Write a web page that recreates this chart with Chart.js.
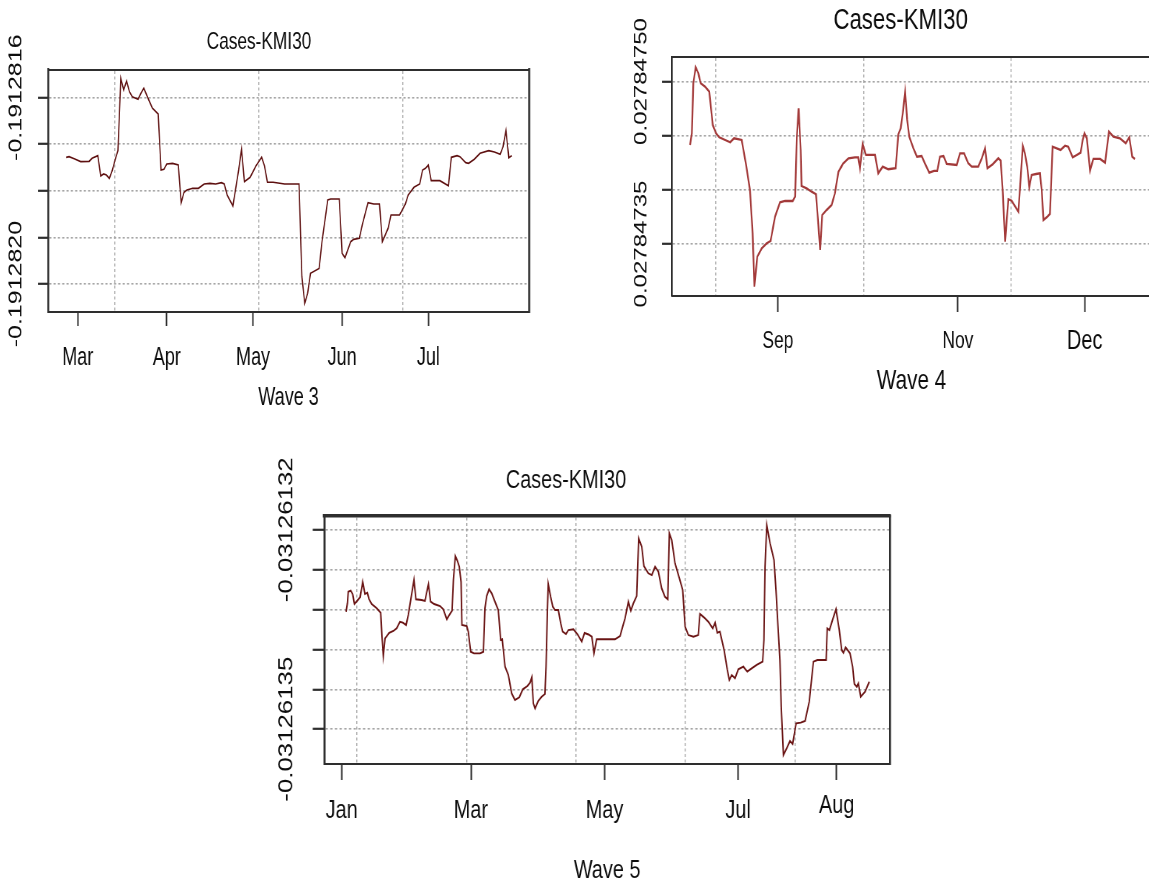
<!DOCTYPE html>
<html>
<head>
<meta charset="utf-8">
<title>Cases-KMI30 by wave</title>
<script src="https://cdn.jsdelivr.net/npm/chart.js@4.4.1/dist/chart.umd.min.js"></script>
<style>
  html, body { margin: 0; padding: 0; background: #ffffff; width: 1149px; height: 888px; overflow: hidden; position: relative; }
  canvas { position: absolute; transform-origin: 0 0; }
</style>
</head>
<body>
<canvas id="wave3"></canvas>
<canvas id="wave4"></canvas>
<canvas id="wave5"></canvas>
<script>
// ---------- Wave 3 (2021, x = day of year) ----------
const wave3Days = [
  56, 57, 59, 61, 64, 65, 67, 68, 69, 70,
  71, 72, 73, 74, 75, 76, 77, 78, 79, 81,
  82, 83, 85, 86, 88, 89, 90, 91, 93, 95,
  96, 97, 98, 100, 102, 104, 106, 108, 110, 111,
  112, 114, 116, 117, 118, 120, 122, 124, 125, 126,
  128, 132, 137, 138, 139, 140, 141, 144, 145, 147,
  148, 151, 152, 153, 155, 156, 158, 159, 161, 163,
  165, 166, 168, 169, 172, 174, 175, 177, 179, 180,
  181, 182, 183, 186, 189, 190, 192, 193, 195, 196,
  198, 200, 203, 205, 207, 208, 209, 210, 211
];
const wave3Values = [
  -0.1912817279, -0.1912817266, -0.1912817315, -0.1912817373, -0.1912817365, -0.1912817300, -0.1912817245, -0.1912817680, -0.1912817637, -0.1912817659,
  -0.1912817730, -0.1912817567, -0.1912817337, -0.1912817137, -0.1912815584, -0.1912815835, -0.1912815642, -0.1912815871, -0.1912815979, -0.1912816034,
  -0.1912815906, -0.1912815798, -0.1912816086, -0.1912816227, -0.1912816350, -0.1912817552, -0.1912817536, -0.1912817423, -0.1912817408, -0.1912817444,
  -0.1912818253, -0.1912818030, -0.1912817981, -0.1912817944, -0.1912817944, -0.1912817852, -0.1912817837, -0.1912817852, -0.1912817824, -0.1912817852,
  -0.1912818088, -0.1912818324, -0.1912817552, -0.1912817107, -0.1912817803, -0.1912817708, -0.1912817466, -0.1912817279, -0.1912817466, -0.1912817815,
  -0.1912817815, -0.1912817852, -0.1912817852, -0.1912819841, -0.1912820412, -0.1912820197, -0.1912819768, -0.1912819665, -0.1912819090, -0.1912818195,
  -0.1912818174, -0.1912818174, -0.1912819339, -0.1912819433, -0.1912819090, -0.1912819039, -0.1912819017, -0.1912818732, -0.1912818253, -0.1912818281,
  -0.1912818281, -0.1912819090, -0.1912818803, -0.1912818517, -0.1912818517, -0.1912818281, -0.1912818088, -0.1912817923, -0.1912817852, -0.1912817552,
  -0.1912817515, -0.1912817444, -0.1912817781, -0.1912817781, -0.1912817888, -0.1912817279, -0.1912817245, -0.1912817266, -0.1912817395, -0.1912817408,
  -0.1912817322, -0.1912817193, -0.1912817137, -0.1912817165, -0.1912817215, -0.1912817052, -0.1912816708, -0.1912817288, -0.1912817245
];
const wave3MonthDays = [60, 91, 121, 152, 182];
const wave3MonthLabels = ['Mar', 'Apr', 'May', 'Jun', 'Jul'];
const wave3GridDays = [73, 123, 173];
const wave3YTicks = [-0.1912816, -0.1912817, -0.1912818, -0.1912819, -0.1912820];
const wave3YLabels = ['-0.1912816', '', '', '', '-0.1912820'];

// ---------- Wave 4 (2021, x = day of year) ----------
const wave4Days = [
  214.2, 214.8, 215.3, 216.1, 217.0, 217.8, 219.3, 220.7, 221.9, 223.0,
  224.1, 226.1, 227.8, 229.1, 231.7, 233.2, 234.5, 235.4, 236.0, 237.0,
  238.5, 240.2, 241.5, 243.0, 244.7, 246.4, 249.0, 249.8, 250.4, 251.0,
  251.7, 252.0, 253.7, 255.4, 256.9, 257.7, 258.3, 259.0, 260.5, 262.2,
  263.3, 264.5, 266.0, 267.9, 270.1, 271.2, 271.8, 272.7, 273.8, 276.9,
  278.0, 279.5, 281.4, 283.9, 284.8, 285.6, 286.3, 287.1, 287.8, 288.5,
  289.9, 291.1, 292.7, 293.8, 295.3, 296.9, 298.0, 298.9, 300.1, 301.2,
  304.6, 305.7, 307.1, 308.5, 309.7, 311.9, 313.1, 314.2, 315.0, 316.8,
  318.7, 319.5, 320.2, 321.0, 322.1, 323.2, 325.5, 326.3, 327.0, 327.7,
  328.5, 329.2, 330.0, 331.5, 332.8, 333.4, 334.0, 335.3, 336.2, 337.1,
  338.5, 339.8, 341.3, 342.4, 343.9, 345.3, 346.6, 347.3, 347.9, 348.7,
  349.8, 350.9, 353.2, 354.9, 356.2, 357.7, 359.9, 361.9, 363.1, 364.1,
  365.0
];
const wave4Values = [
  0.0278474414, 0.0278474522, 0.0278474983, 0.0278475131, 0.0278475076, 0.0278474983, 0.0278474952, 0.0278474906, 0.0278474598, 0.0278474522,
  0.0278474485, 0.0278474460, 0.0278474439, 0.0278474476, 0.0278474460, 0.0278474229, 0.0278473999, 0.0278473599, 0.0278473106, 0.0278473383,
  0.0278473460, 0.0278473507, 0.0278473528, 0.0278473752, 0.0278473885, 0.0278473897, 0.0278473897, 0.0278473937, 0.0278474491, 0.0278474753,
  0.0278474368, 0.0278474035, 0.0278474014, 0.0278473983, 0.0278473959, 0.0278473675, 0.0278473445, 0.0278473768, 0.0278473814, 0.0278473860,
  0.0278473968, 0.0278474167, 0.0278474239, 0.0278474291, 0.0278474300, 0.0278474300, 0.0278474199, 0.0278474423, 0.0278474322, 0.0278474322,
  0.0278474153, 0.0278474214, 0.0278474190, 0.0278474199, 0.0278474513, 0.0278474568, 0.0278474706, 0.0278474906, 0.0278474645, 0.0278474491,
  0.0278474383, 0.0278474306, 0.0278474312, 0.0278474245, 0.0278474158, 0.0278474174, 0.0278474174, 0.0278474306, 0.0278474312, 0.0278474239,
  0.0278474229, 0.0278474337, 0.0278474337, 0.0278474245, 0.0278474214, 0.0278474214, 0.0278474291, 0.0278474383, 0.0278474199, 0.0278474236,
  0.0278474291, 0.0278474269, 0.0278473983, 0.0278473521, 0.0278473913, 0.0278473900, 0.0278473798, 0.0278474121, 0.0278474405, 0.0278474337,
  0.0278474214, 0.0278474029, 0.0278474137, 0.0278474146, 0.0278474153, 0.0278473999, 0.0278473722, 0.0278473752, 0.0278473777, 0.0278474398,
  0.0278474383, 0.0278474368, 0.0278474407, 0.0278474398, 0.0278474300, 0.0278474322, 0.0278474343, 0.0278474460, 0.0278474522, 0.0278474476,
  0.0278474177, 0.0278474285, 0.0278474285, 0.0278474251, 0.0278474537, 0.0278474491, 0.0278474476, 0.0278474430, 0.0278474485, 0.0278474306,
  0.0278474285
];
const wave4MonthDays = [244, 305, 348];
const wave4MonthLabels = ['Sep', 'Nov', 'Dec'];
const wave4GridDays = [223, 273, 323];
const wave4YTicks = [0.02784750, 0.02784745, 0.02784740, 0.02784735];
const wave4YLabels = ['0.02784750', '', '', '0.02784735'];

// ---------- Wave 5 (2022, x = day of year) ----------
const wave5Days = [
  3.0, 3.6, 4.0, 5.1, 6.0, 6.8, 8.1, 9.4, 10.6, 11.6,
  12.7, 13.5, 14.7, 17.0, 18.8, 19.4, 20.0, 20.8, 22.7, 24.6,
  26.1, 27.6, 28.9, 30.4, 31.4, 32.5, 34.0, 34.9, 37.5, 39.0,
  40.6, 41.6, 43.2, 45.9, 47.4, 49.0, 50.1, 51.4, 52.0, 52.9,
  53.8, 54.7, 55.5, 55.9, 58.1, 58.8, 59.9, 61.4, 64.2, 65.7,
  66.4, 67.2, 68.3, 69.5, 71.0, 72.5, 73.6, 74.3, 75.6, 77.1,
  78.6, 80.1, 82.1, 83.7, 85.8, 87.0, 87.8, 88.5, 89.3, 90.8,
  92.3, 93.8, 94.3, 94.9, 95.3, 96.4, 97.4, 98.4, 99.9, 101.0,
  101.9, 103.4, 104.5, 106.8, 108.6, 110.6, 111.9, 113.7, 115.2, 116.2,
  117.4, 120.5, 125.8, 128.1, 129.3, 130.4, 131.9, 133.0, 134.2, 135.7,
  136.6, 138.0, 139.0, 141.0, 142.6, 144.1, 145.6, 147.1, 148.6, 149.9,
  150.6, 151.7, 153.2, 155.2, 156.7, 157.8, 159.3, 161.6, 163.8, 164.6,
  166.4, 168.4, 170.4, 171.5, 172.5, 173.7, 175.6, 177.1, 178.0, 179.1,
  180.6, 182.1, 184.4, 186.2, 188.2, 190.5, 193.2, 193.8, 194.3, 195.1,
  196.6, 198.4, 199.3, 200.4, 201.1, 201.7, 202.7, 204.2, 205.7, 206.9,
  208.5, 210.6, 212.6, 214.5, 216.4, 218.2, 222.2, 222.7, 223.7, 225.2,
  226.7, 228.2, 229.3, 230.1, 231.1, 233.1, 234.3, 235.1, 236.2, 236.9,
  238.0, 240.0, 241.9
];
const wave5Values = [
  -0.03126133028, -0.03126132922, -0.03126132777, -0.03126132764, -0.03126132806, -0.03126132931, -0.03126132890, -0.03126132847, -0.03126132652, -0.03126132806,
  -0.03126132789, -0.03126132872, -0.03126132931, -0.03126132985, -0.03126133040, -0.03126133341, -0.03126133583, -0.03126133361, -0.03126133291, -0.03126133269,
  -0.03126133236, -0.03126133153, -0.03126133165, -0.03126133194, -0.03126133069, -0.03126132881, -0.03126132630, -0.03126132872, -0.03126132881, -0.03126132893,
  -0.03126132684, -0.03126132902, -0.03126132931, -0.03126132956, -0.03126132997, -0.03126133123, -0.03126133069, -0.03126133015, -0.03126132630, -0.03126132330,
  -0.03126132388, -0.03126132464, -0.03126132652, -0.03126133194, -0.03126133207, -0.03126133278, -0.03126133529, -0.03126133549, -0.03126133549, -0.03126133529,
  -0.03126132985, -0.03126132831, -0.03126132747, -0.03126132797, -0.03126132902, -0.03126133006, -0.03126133382, -0.03126133373, -0.03126133717, -0.03126133821,
  -0.03126134050, -0.03126134134, -0.03126134100, -0.03126134000, -0.03126133959, -0.03126133917, -0.03126133850, -0.03126134175, -0.03126134238, -0.03126134143,
  -0.03126134093, -0.03126134059, -0.03126133717, -0.03126133048, -0.03126132680, -0.03126132840, -0.03126132965, -0.03126133006, -0.03126133006, -0.03126133173,
  -0.03126133278, -0.03126133307, -0.03126133257, -0.03126133248, -0.03126133307, -0.03126133403, -0.03126133294, -0.03126133313, -0.03126133341, -0.03126133549,
  -0.03126133373, -0.03126133373, -0.03126133373, -0.03126133332, -0.03126133215, -0.03126133110, -0.03126132902, -0.03126133015, -0.03126132922, -0.03126132831,
  -0.03126132108, -0.03126132213, -0.03126132455, -0.03126132546, -0.03126132568, -0.03126132464, -0.03126132526, -0.03126132734, -0.03126132840, -0.03126132872,
  -0.03126132045, -0.03126132129, -0.03126132421, -0.03126132609, -0.03126132756, -0.03126133215, -0.03126133320, -0.03126133341, -0.03126133320, -0.03126133056,
  -0.03126133098, -0.03126133153, -0.03126133236, -0.03126133165, -0.03126133291, -0.03126133278, -0.03126133507, -0.03126133758, -0.03126133883, -0.03126133821,
  -0.03126133862, -0.03126133749, -0.03126133717, -0.03126133779, -0.03126133737, -0.03126133695, -0.03126133654, -0.03126133382, -0.03126132464, -0.03126131941,
  -0.03126132170, -0.03126132380, -0.03126132756, -0.03126133298, -0.03126133633, -0.03126134218, -0.03126134823, -0.03126134739, -0.03126134648, -0.03126134685,
  -0.03126134426, -0.03126134418, -0.03126134397, -0.03126134155, -0.03126133654, -0.03126133633, -0.03126133633, -0.03126133236, -0.03126133257, -0.03126133123,
  -0.03126132997, -0.03126133257, -0.03126133507, -0.03126133541, -0.03126133474, -0.03126133549, -0.03126133717, -0.03126133934, -0.03126133967, -0.03126133925,
  -0.03126134093, -0.03126134030, -0.03126133905
];
const wave5MonthDays = [1, 60, 121, 182, 227];
const wave5MonthLabels = ['Jan', 'Mar', 'May', 'Jul', 'Aug'];
const wave5GridDays = [8, 58, 108, 158, 208];
const wave5YTicks = [-0.031261320, -0.031261325, -0.031261330, -0.031261335, -0.031261340, -0.031261345];
const wave5YLabels = ['-0.03126132', '', '', '', '', '-0.03126135'];

// ---------- drawing ----------
const FONT = "'Liberation Sans', Arial, Helvetica, sans-serif";
const TEXT = '#0d0d0d';
const GRID = 'rgba(150,150,150,0.85)';
const FRAME = '#2e2e2e';

Chart.defaults.font.family = FONT;
Chart.defaults.color = TEXT;

function textWidth(text, size) {
  const ctx = document.createElement('canvas').getContext('2d');
  ctx.font = size + 'px ' + FONT;
  return ctx.measureText(text).width;
}

// Each panel is drawn on a wider canvas and compressed horizontally by `squeeze`,
// which gives the narrow lettering and the tall rotated axis numbers.
// The title is centred on [canvas left, titleRight]; an empty right-hand axis
// fills the gap between the plot frame and titleRight.
function drawPanel(id, d, p) {
  const S = p.squeeze;
  const cv = document.getElementById(id);
  const L = (p.frame.l - p.left) / S;
  const titleRight = (2 * p.titleX - p.left - p.left) / S;
  const R = (p.frame.r - p.left) / S;
  const rightGap = Math.max(0, titleRight - R);
  const W = Math.ceil(Math.max(titleRight, R) + 4);
  const padR = W - Math.max(titleRight, R);
  cv.width = W;
  cv.height = p.height;
  cv.style.left = p.left + 'px';
  cv.style.top = p.top + 'px';
  cv.style.transform = 'scaleX(' + S + ')';

  const T = p.frame.t - p.top;
  const B = p.frame.b - p.top;
  const titleMid = p.titleY - p.top;
  const yTickLen = p.yTickLen / S;
  const yPad = (p.frame.l - p.yLabelX) / S - yTickLen;
  const yLabelLen = textWidth(d.yLabels.find(s => s.length > 0), p.yTickSize);
  const xPad = (p.xLabelY - p.top) - B - p.xTickLen - p.tickSize / 2;
  const xTitlePad = p.height - (p.xTitleY - p.top) - p.xTitleSize / 2;
  const xHeight = p.height - B;
  const font = size => ({ family: FONT, size: size, lineHeight: 1, weight: 'normal' });
  // per-label size / vertical lift on the month axis
  const monthFont = ctx => {
    const adj = (p.monthAdjust || {})[ctx.index];
    if (!adj) return font(p.tickSize);
    const size = adj.size || p.tickSize;
    const lh = p.tickSize + (size - p.tickSize) * 2 - 2 * (adj.lift || 0) - (size - p.tickSize);
    return { family: FONT, size: size, lineHeight: lh + 'px', weight: 'normal' };
  };

  new Chart(cv, {
    type: 'line',
    data: {
      datasets: [{
        data: d.days.map((x, i) => ({ x: x, y: d.values[i] })),
        borderColor: p.lineColor,
        borderWidth: p.lineWidth,
        pointRadius: 0,
        tension: 0,
        fill: false,
        xAxisID: 'x',
        yAxisID: 'y'
      }]
    },
    options: {
      responsive: false,
      animation: false,
      devicePixelRatio: 1,
      layout: { padding: { left: 0, right: padR, top: 0, bottom: 0 } },
      plugins: {
        legend: { display: false },
        tooltip: { enabled: false },
        title: {
          display: true,
          text: d.title,
          color: TEXT,
          font: font(p.titleSize),
          padding: { top: titleMid - p.titleSize / 2, bottom: T - titleMid - p.titleSize / 2 }
        }
      },
      scales: {
        x: {
          type: 'linear', axis: 'x', position: 'bottom',
          min: p.xMin, max: p.xMax,
          afterFit: s => { s.height = xHeight; },
          afterBuildTicks: s => { s.ticks = d.monthDays.map(v => ({ value: v })); },
          ticks: {
            autoSkip: false, minRotation: 0, maxRotation: 0,
            padding: xPad, color: TEXT, font: monthFont,
            callback: (v, i) => d.monthLabels[i]
          },
          grid: { drawOnChartArea: false, drawTicks: true, tickLength: p.xTickLen, tickColor: FRAME, tickWidth: 2, tickBorderDash: [] },
          border: { display: true, color: FRAME, width: 2 },
          title: { display: true, text: d.xTitle, color: TEXT, font: font(p.xTitleSize), padding: { top: 0, bottom: xTitlePad } }
        },
        xg: {
          type: 'linear', axis: 'x', position: 'top',
          min: p.xMin, max: p.xMax,
          afterFit: s => { s.height = 0; },
          afterBuildTicks: s => { s.ticks = d.gridDays.map(v => ({ value: v })); },
          ticks: { display: false },
          grid: { drawOnChartArea: true, drawTicks: false, color: GRID, lineWidth: 1.4 },
          border: { display: true, color: FRAME, width: p.topFrame, dash: [3, 2.5] }
        },
        y: {
          type: 'linear', axis: 'y', position: 'left',
          min: p.yMin, max: p.yMax,
          afterFit: s => { s.width = L; },
          afterBuildTicks: s => { s.ticks = d.yTicks.map(v => ({ value: v })); },
          ticks: {
            autoSkip: false, minRotation: 90, maxRotation: 90,
            padding: yPad, labelOffset: -yLabelLen / 2,
            color: TEXT, font: font(p.yTickSize),
            callback: (v, i) => d.yLabels[i]
          },
          grid: { drawOnChartArea: true, drawTicks: true, color: GRID, lineWidth: 1.6, tickLength: yTickLen, tickColor: FRAME, tickWidth: 2.2, tickBorderDash: [] },
          border: { display: true, color: FRAME, width: 2.6, dash: [3, 3] }
        },
        yr: {
          type: 'linear', axis: 'y', position: 'right',
          min: 0, max: 1,
          afterFit: s => { s.width = rightGap; },
          afterBuildTicks: s => { s.ticks = [{ value: 0 }]; },
          ticks: { display: false },
          grid: { drawOnChartArea: false, drawTicks: false },
          border: { display: true, color: FRAME, width: 2.6 }
        }
      }
    }
  });
}

drawPanel('wave3', {
  title: 'Cases-KMI30', xTitle: 'Wave 3',
  days: wave3Days, values: wave3Values,
  monthDays: wave3MonthDays, monthLabels: wave3MonthLabels, gridDays: wave3GridDays,
  yTicks: wave3YTicks, yLabels: wave3YLabels
}, {
  squeeze: 0.72, left: -11, top: 0, height: 420,
  frame: { l: 48, r: 529, t: 69.5, b: 312 },
  xMin: 49.67, xMax: 217.03, yMin: -0.1912820599, yMax: -0.1912815395,
  titleX: 259, titleY: 42.3, titleSize: 24,
  tickSize: 25, xTickLen: 14, xLabelY: 358.3,
  xTitleSize: 25, xTitleY: 398.3,
  yTickSize: 25, yTickLen: 10, yLabelX: 16.7,
  lineColor: '#5e1010', lineWidth: 1.7, topFrame: 2
});

drawPanel('wave4', {
  title: 'Cases-KMI30', xTitle: 'Wave 4',
  days: wave4Days, values: wave4Values,
  monthDays: wave4MonthDays, monthLabels: wave4MonthLabels, gridDays: wave4GridDays,
  yTicks: wave4YTicks, yLabels: wave4YLabels
}, {
  squeeze: 0.74, left: 622, top: 0, height: 400,
  frame: { l: 672, r: 1151, t: 57, b: 296 },
  xMin: 208.08, xMax: 370.46, yMin: 0.0278473020, yMax: 0.0278475226,
  titleX: 900.7, titleY: 21, titleSize: 30,
  tickSize: 23.5, xTickLen: 16, xLabelY: 341.5,
  monthAdjust: { 2: { size: 27, lift: 2 } },
  xTitleSize: 28, xTitleY: 381.7,
  yTickSize: 24, yTickLen: 10, yLabelX: 641.7,
  lineColor: '#a33a3a', lineWidth: 2.3, topFrame: 2
});

drawPanel('wave5', {
  title: 'Cases-KMI30', xTitle: 'Wave 5',
  days: wave5Days, values: wave5Values,
  monthDays: wave5MonthDays, monthLabels: wave5MonthLabels, gridDays: wave5GridDays,
  yTicks: wave5YTicks, yLabels: wave5YLabels
}, {
  squeeze: 0.78, left: 240, top: 440, height: 448,
  frame: { l: 324.3, r: 890, t: 516, b: 764 },
  xMin: -6.94, xMax: 251.37, yMin: -0.03126134936, yMax: -0.03126131828,
  titleX: 566, titleY: 481, titleSize: 25.5,
  tickSize: 25.5, xTickLen: 16, xLabelY: 811,
  monthAdjust: { 4: { lift: 5 } },
  xTitleSize: 25.5, xTitleY: 870.5,
  yTickSize: 25.8, yTickLen: 11.6, yLabelX: 286.7,
  lineColor: '#6a1414', lineWidth: 1.9, topFrame: 3.5
});
</script>
</body>
</html>
